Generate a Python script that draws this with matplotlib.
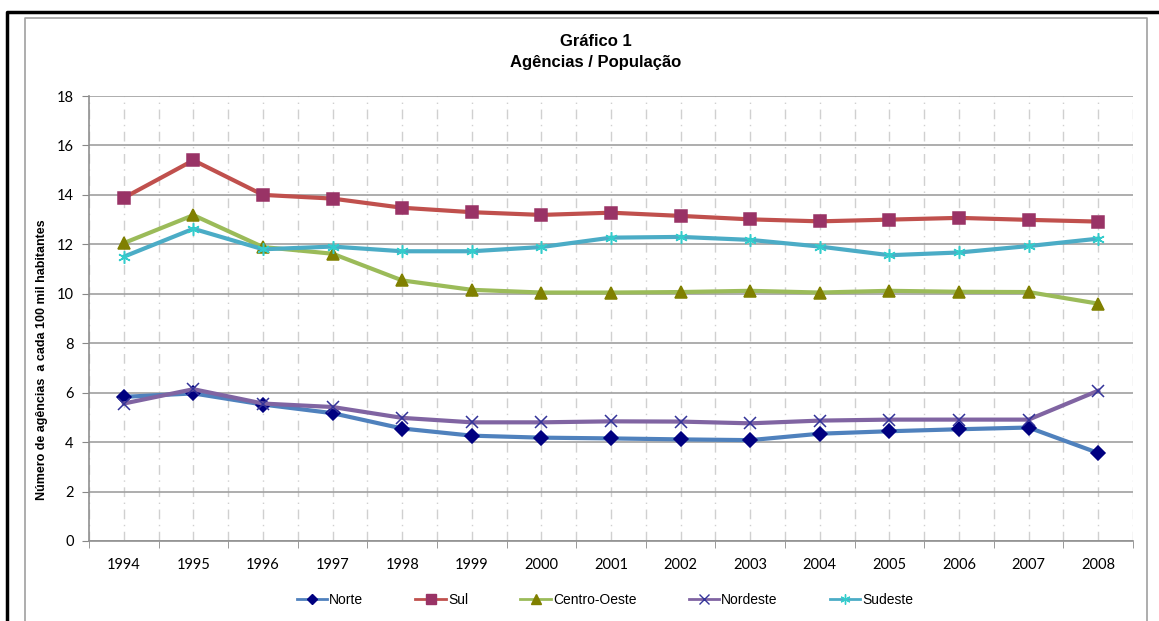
import matplotlib.pyplot as plt
from matplotlib.lines import Line2D
from matplotlib.ticker import FixedLocator
import numpy as np

# data
anos = ['1994', '1995', '1996', '1997', '1998', '1999', '2000', '2001',
        '2002', '2003', '2004', '2005', '2006', '2007', '2008']
norte = [5.83, 5.97, 5.52, 5.17, 4.55, 4.26, 4.18, 4.15, 4.11, 4.08, 4.34, 4.44, 4.52, 4.59, 3.56]
sul = [13.88, 15.40, 14.00, 13.85, 13.48, 13.30, 13.19, 13.28, 13.15, 13.01, 12.93, 13.00, 13.07, 12.99, 12.92]
centro_oeste = [12.05, 13.18, 11.89, 11.62, 10.54, 10.16, 10.05, 10.05, 10.07, 10.12, 10.05, 10.12, 10.08, 10.07, 9.60]
nordeste = [5.56, 6.14, 5.56, 5.42, 4.98, 4.80, 4.80, 4.84, 4.83, 4.76, 4.87, 4.91, 4.91, 4.91, 6.08]
sudeste = [11.50, 12.63, 11.80, 11.91, 11.72, 11.72, 11.89, 12.27, 12.30, 12.18, 11.91, 11.56, 11.67, 11.93, 12.23]

fonte_titulo = ['Liberation Sans', 'DejaVu Sans']
fonte_eixo = ['Lato', 'DejaVu Sans']

fig = plt.figure(figsize=(11.59, 6.21), dpi=100)
ax = fig.add_axes([89 / 1159, 80 / 621, (1133 - 89) / 1159, (541 - 96) / 621])

x = np.arange(len(anos))
series = [
    ('Norte', norte, '#4F81BD', 'D', '#000080', 7),
    ('Sul', sul, '#C0504D', 's', '#993366', 8.5),
    ('Centro-Oeste', centro_oeste, '#9BBB59', '^', '#808000', 8.5),
    ('Nordeste', nordeste, '#8064A2', 'x', '#333399', 8.5),
    ('Sudeste', sudeste, '#4BACC6', (6, 2, 0), '#33CCCC', 9),
]
handles = []
for nome, vals, cor, mk, cor_mk, ms in series:
    ax.plot(x, vals, color=cor, linewidth=3, marker=mk, markersize=ms,
            markerfacecolor=cor_mk, markeredgecolor=cor_mk, markeredgewidth=1.1,
            zorder=3)
    handles.append(Line2D([], [], color=cor, linewidth=2, marker=mk, markersize=ms * 0.8,
                          markerfacecolor=cor_mk, markeredgecolor=cor_mk,
                          markeredgewidth=1, label=nome))

ax.set_xlim(-0.5, len(anos) - 0.5)
ax.set_ylim(0, 18)
ax.set_yticks(np.arange(0, 19, 2))
ax.set_xticks(x)
ax.set_xticklabels(anos, fontsize=10.5, family=fonte_eixo)
ax.xaxis.set_minor_locator(FixedLocator(np.arange(-0.5, len(anos), 1)))
ax.tick_params(axis='x', which='major', length=0, pad=12)
ax.tick_params(axis='x', which='minor', length=5, color='#888888')
ax.tick_params(axis='y', length=5, color='#888888', pad=6)
for lbl in ax.get_yticklabels():
    lbl.set_family(fonte_eixo)
    lbl.set_fontsize(10.5)

ax.grid(axis='y', color='#a0a0a0', linewidth=1.2, zorder=0)
ax.grid(axis='x', which='both', color='#d0d0d0', linestyle=(0, (7, 4, 1, 4)), linewidth=1, zorder=0)
for lado in ['top', 'right']:
    ax.spines[lado].set_visible(False)
ax.spines['left'].set_color('#909090')
ax.spines['bottom'].set_color('#909090')
ax.spines['left'].set_linewidth(1.2)
ax.spines['bottom'].set_linewidth(1.2)

ax.set_ylabel('Número de agências  a cada 100 mil habitantes', fontsize=9,
              fontweight='bold', family=fonte_titulo)
ax.yaxis.set_label_coords(-0.039, 0.407)

fig.text(596 / 1159, 1 - 42 / 621, 'Gráfico 1', ha='center', va='center',
         fontsize=12, fontweight='bold', family=fonte_titulo)
fig.text(596 / 1159, 1 - 63 / 621, 'Agências / População', ha='center', va='center',
         fontsize=12, fontweight='bold', family=fonte_titulo)

fig.legend(handles=handles, loc='center', bbox_to_anchor=(605 / 1159, 1 - 600 / 621), ncol=5,
           frameon=False, prop={'family': fonte_titulo, 'size': 10},
           handlelength=2.2, columnspacing=3.75, handletextpad=0.15)

# molduras
fig.add_artist(Line2D([7 / 1159, 7 / 1159, 1], [0, 1 - 12 / 621, 1 - 12 / 621],
                      transform=fig.transFigure, color='black', linewidth=2.5))
fig.add_artist(Line2D([25 / 1159, 25 / 1159, 1147 / 1159, 1147 / 1159],
                      [0, 1 - 18 / 621, 1 - 18 / 621, 0],
                      transform=fig.transFigure, color='#a0a0a0', linewidth=1.2))

fig.savefig('out.png', dpi=100)
